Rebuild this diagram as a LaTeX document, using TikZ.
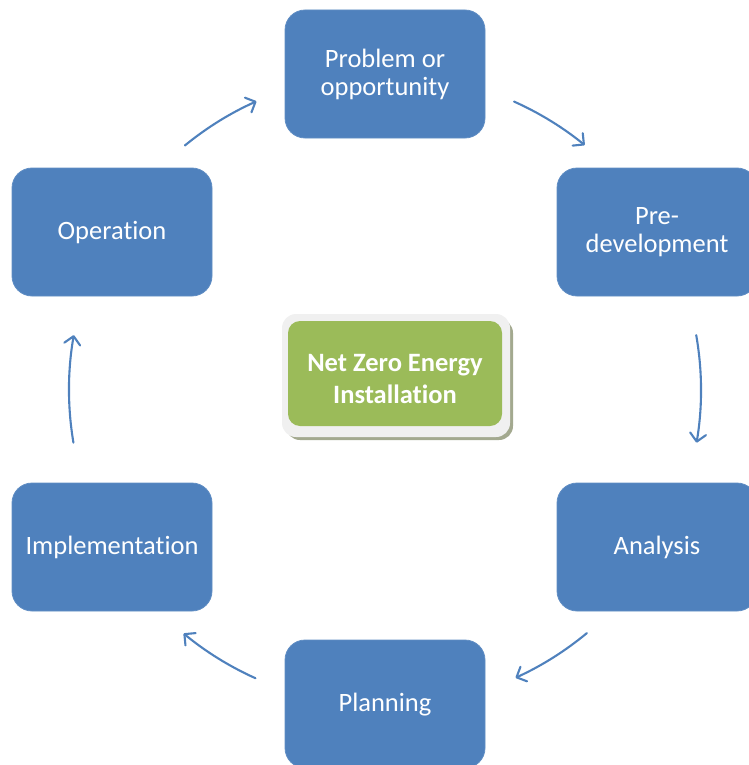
\documentclass[tikz,border=0pt]{standalone}
\usepackage{fontspec}
\setmainfont[Ligatures={NoCommon}]{Carlito}
\usetikzlibrary{arrows.meta}
\definecolor{boxblue}{HTML}{4F81BD}
\definecolor{boxgreen}{HTML}{9BBB59}
\definecolor{framegray}{HTML}{F0F0F0}
\definecolor{shadowol}{HTML}{A3A98F}
\tikzset{
  stage/.style={draw=boxblue!90!white, line width=0.8pt, fill=boxblue, rounded corners=20pt,
    minimum width=200pt, minimum height=128pt, text=white, align=center,
    font=\fontsize{26.5}{28}\selectfont, inner sep=0pt},
  cyc/.style={draw=boxblue, line width=2.1pt, line cap=round,
    -{Straight Barb[length=8pt,width=16pt,line width=2.1pt,round]}}
}
\begin{document}
\begin{tikzpicture}[x=1pt,y=1pt]
\useasboundingbox (0,0) rectangle (748,-765);
\node[stage] (prob) at (385,-74) {Problem or\\opportunity};
\node[stage] (pre) at (657,-232) {Pre-\\development};
\node[stage, text height=20pt, text depth=6pt] (ana) at (657,-547) {Analysis};
\node[stage, text height=20pt, text depth=6pt] (plan) at (385,-704) {Planning};
\node[stage, text height=20pt, text depth=6pt] (impl) at (112,-547) {Implementation};
\node[stage, text height=20pt, text depth=6pt] (oper) at (112,-232) {Operation};
% center
\fill[shadowol, rounded corners=14pt] (286,-319) rectangle (513,-440);
\fill[framegray, rounded corners=14pt] (282,-314) rectangle (510,-437);
\node[fill=boxgreen, rounded corners=12pt, minimum width=214pt, minimum height=105pt,
  inner sep=0pt] (core) at (395,-373.5) {};
\node[text=white, align=center, font=\bfseries\fontsize{26.5}{32}\selectfont, inner sep=0pt]
  (coretext) at ([yshift=-6pt]core.center) {Net Zero Energy\\Installation};
\coordinate (c) at (385,-390);
\draw[cyc] ([shift={(65.9:316)}]c) arc[start angle=65.9, end angle=50.8, radius=316];
\draw[cyc] ([shift={(10:316)}]c) arc[start angle=10, end angle=-9.6, radius=316];
\draw[cyc] ([shift={(-50.3:316)}]c) arc[start angle=-50.3, end angle=-65.6, radius=316];
\draw[cyc] ([shift={(-114.2:316)}]c) arc[start angle=-114.2, end angle=-129.6, radius=316];
\draw[cyc] ([shift={(-170.4:316)}]c) arc[start angle=-170.4, end angle=-190, radius=316];
\draw[cyc] ([shift={(129.3:316)}]c) arc[start angle=129.3, end angle=114, radius=316];
\end{tikzpicture}
\end{document}
